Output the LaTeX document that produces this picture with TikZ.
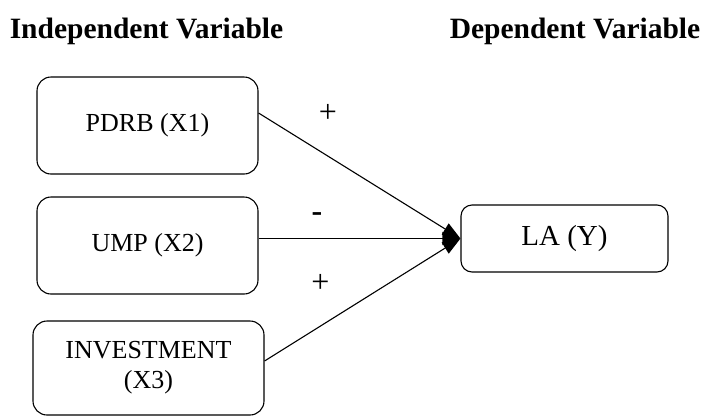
\documentclass[tikz,border=0pt]{standalone}
\usepackage{fontspec}
\setmainfont{Liberation Serif}
\usetikzlibrary{arrows.meta,calc}
\begin{document}
\begin{tikzpicture}[x=1pt,y=-1pt,
  varbox/.style={draw,line width=1.1pt,rounded corners=14pt,inner sep=0pt,
    font=\fontsize{26}{30}\selectfont,align=center},
  title/.style={font=\bfseries\fontsize{29.5}{32}\selectfont,anchor=base,inner sep=0pt},
  sign/.style={font=\fontsize{32}{34}\selectfont,inner sep=0pt},
  link/.style={line width=1.1pt,-{Triangle[length=18pt,width=13pt]}}]
\useasboundingbox (0,0) rectangle (704,416);
\node[title] (tin) at (146.5,38) {Independent Variable};
\node[title] (tdep) at (575,38) {Dependent Variable};
\node[varbox,minimum width=221pt,minimum height=97pt] (pdrb) at (147.5,125.5) {PDRB (X1)};
\node[varbox,minimum width=221pt,minimum height=97pt] (ump) at (147.5,245.5) {UMP (X2)};
\node[varbox,minimum width=231pt,minimum height=94pt] (inv) at (148.5,368) {INVESTMENT\\(X3)};
\node[varbox,minimum width=207pt,minimum height=67pt,rounded corners=11pt,font=\fontsize{29}{30}\selectfont] (la) at (564.5,238.5) {LA (Y)};
\draw[link] ([yshift=12.5pt]pdrb.east) -- (la.west);
\draw[link] (ump.east |- la.west) -- (la.west);
\draw[link] ([yshift=7pt]inv.east) -- (la.west);
\node[sign] (s1) at (328,113) {+};
\node[sign,anchor=base,font=\bfseries\fontsize{32}{34}\selectfont] (s2) at (317,221) {-};
\node[sign] (s3) at (320.5,283) {+};
\end{tikzpicture}
\end{document}
